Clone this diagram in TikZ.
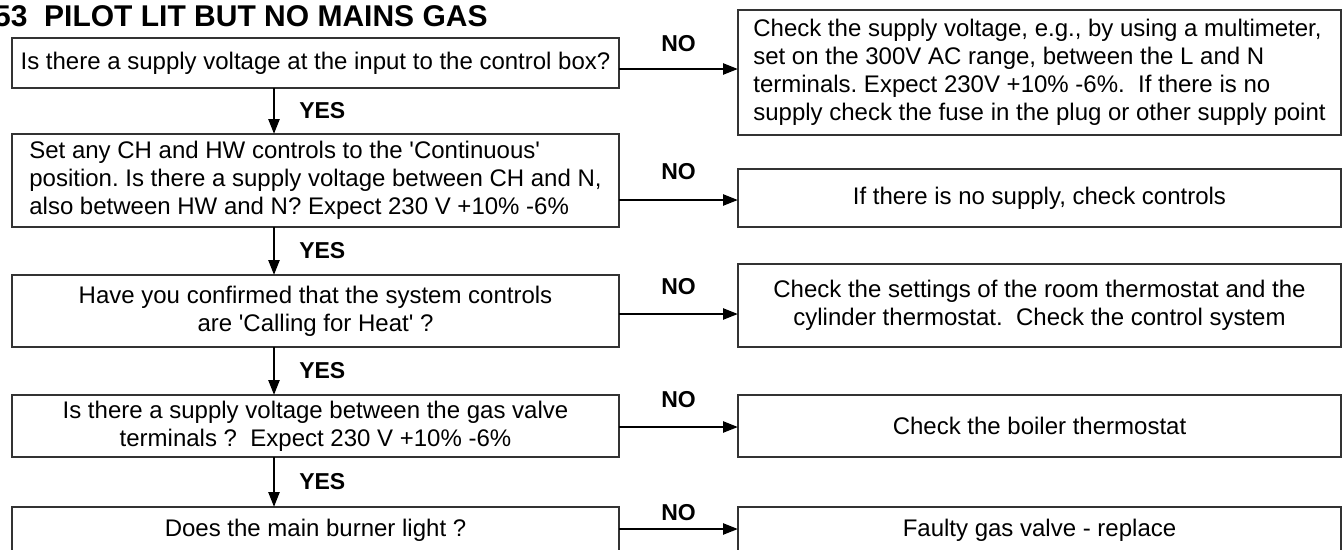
\documentclass[tikz,border=0pt]{standalone}
\usepackage{fontspec}
\setmainfont{Liberation Sans}
\usetikzlibrary{arrows.meta, positioning}
\frenchspacing

\begin{document}
\begin{tikzpicture}[
    x=1pt, y=-1pt,
    node distance=48pt and 119pt,
    box/.style={draw=black!80, line width=1.5pt, rectangle, outer sep=0pt, inner sep=2pt, minimum width=607pt, align=center, font=\fontsize{24pt}{28pt}\selectfont},
    result/.style={box, minimum width=603pt},
    lbl/.style={inner sep=0pt, font=\bfseries\fontsize{23pt}{26pt}\selectfont},
    arrow/.style={line width=2.5pt, -{Triangle[length=15pt, width=11pt]}}
]
    \useasboundingbox (0,0) rectangle (1344,549);
    \clip (0,0) rectangle (1344,549);

    \node (title) [anchor=base west, inner sep=0pt, font=\bfseries\fontsize{30pt}{34pt}\selectfont] at (-6,26) {53~~PILOT LIT BUT NO MAINS GAS};

    % Question column
    \node (supply) [box, minimum height=50pt] at (315.5,63) {Is there a supply voltage at the input to the control box?};
    \node (contin) [box, minimum height=93pt, align=left, below=46pt of supply] {Set any CH and HW controls to the \textquotesingle{}Continuous\textquotesingle\\position. Is there a supply voltage between CH and N,\\also between HW and N? Expect 230 V +10\% -6\%};
    \node (calling) [box, minimum height=72pt, below=of contin] {Have you confirmed that the system controls\\are \textquotesingle{}Calling for Heat\textquotesingle{} ?};
    \node (valve) [box, minimum height=62pt, below=of calling] {Is there a supply voltage between the gas valve\\terminals ?~ Expect 230 V +10\% -6\%};
    \node (burner) [box, minimum height=46pt, below=50pt of valve] {Does the main burner light ?};

    % Action column
    \node (chkvolt) [result, minimum height=125pt, align=left, right=of supply, yshift=-9.5pt] {Check the supply voltage, e.g., by using a multimeter,\\set on the 300V AC range, between the L and N\\terminals. Expect 230V +10\% -6\%.~ If there is no\\supply check the fuse in the plug or other supply point};
    \node (chkctrl) [result, minimum height=58pt, right=of contin, yshift=-17.5pt] {If there is no supply, check controls};
    \node (chkstat) [result, minimum height=83pt, right=of calling, yshift=5.5pt] {Check the settings of the room thermostat and the\\cylinder thermostat.~ Check the control system};
    \node (chkboil) [result, minimum height=62pt, right=of valve] {Check the boiler thermostat};
    \node (faulty) [result, minimum height=46pt, right=of burner] {Faulty gas valve - replace};

    % YES connections
    \draw [arrow] ([xshift=-41.5pt]supply.south) -- node[lbl, right=24pt] {YES} ([xshift=-41.5pt]contin.north);
    \draw [arrow] ([xshift=-41.5pt]contin.south) -- node[lbl, right=24pt] {YES} ([xshift=-41.5pt]calling.north);
    \draw [arrow] ([xshift=-41.5pt]calling.south) -- node[lbl, right=24pt] {YES} ([xshift=-41.5pt]valve.north);
    \draw [arrow] ([xshift=-41.5pt]valve.south) -- node[lbl, right=24pt] {YES} ([xshift=-41.5pt]burner.north);

    % NO connections
    \draw [arrow] ([yshift=-6pt]supply.east) -- node[lbl, yshift=25pt] {NO} ([yshift=-6pt]chkvolt.west |- supply.east);
    \draw [arrow] ([yshift=-19.5pt]contin.east) -- node[lbl, yshift=28pt] {NO} ([yshift=-19.5pt]chkctrl.west |- contin.east);
    \draw [arrow] ([yshift=-3pt]calling.east) -- node[lbl, yshift=27pt] {NO} ([yshift=-3pt]chkstat.west |- calling.east);
    \draw [arrow] ([yshift=-1pt]valve.east) -- node[lbl, yshift=27pt] {NO} ([yshift=-1pt]chkboil.west |- valve.east);
    \draw [arrow] ([yshift=1pt]burner.east) -- node[lbl, yshift=16pt] {NO} ([yshift=1pt]faulty.west |- burner.east);
\end{tikzpicture}
\end{document}
